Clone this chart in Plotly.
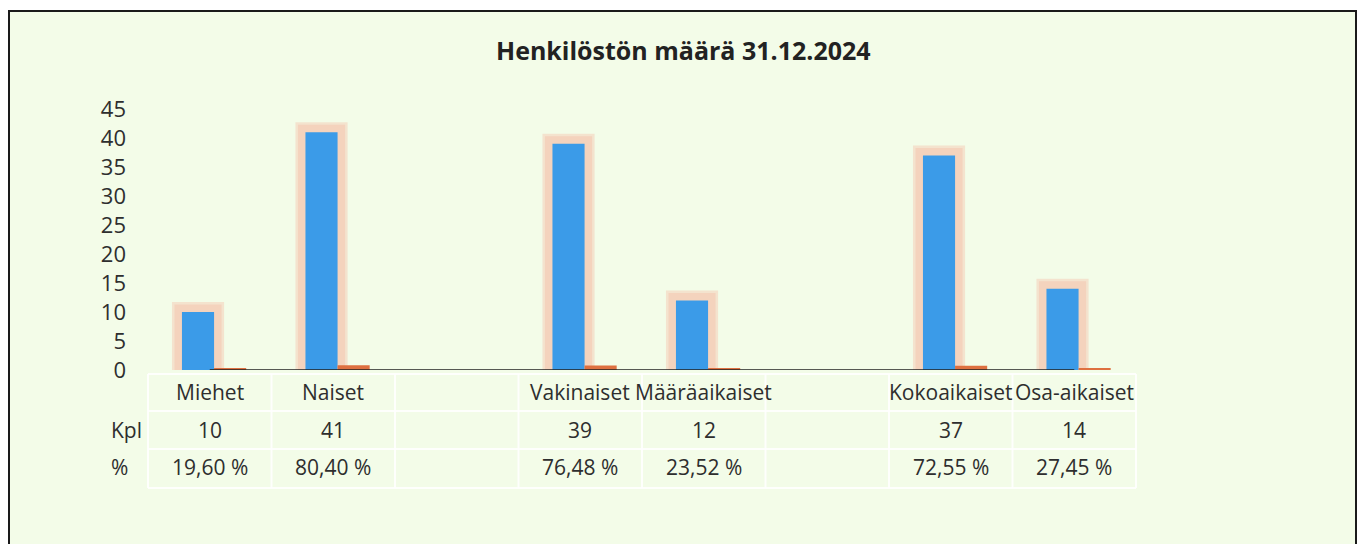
import plotly.graph_objects as go

categories = ["Miehet", "Naiset", " ", "Vakinaiset", "Määräaikaiset", "  ", "Kokoaikaiset", "Osa-aikaiset"]
kpl = [10, 41, None, 39, 12, None, 37, 14]
pct = [0.196, 0.804, None, 0.7648, 0.2352, None, 0.7255, 0.2745]
kpl_labels = ["10", "41", "", "39", "12", "", "37", "14"]
pct_labels = ["19,60 %", "80,40 %", "", "76,48 %", "23,52 %", "", "72,55 %", "27,45 %"]
row_labels = ["Kpl", "%"]
y_ticks = [0, 5, 10, 15, 20, 25, 30, 35, 40, 45]

W, H = 1365, 544
OFF = 8  # page body margin
FONT = "Open Sans"
TXT = "#2e2e2e"

def px(x):
    return (x - OFF) / W

def py(y):
    return 1 - (y - OFF) / H

bw = 0.26
boff = -0.225
fig = go.Figure()
# soft glow behind bars (two overlapping layers for a soft edge)
for lw, alpha in ((20, 0.4), (15, 0.45)):
    col = f"rgba(244,190,168,{alpha})"
    fig.add_trace(go.Bar(x=categories, y=kpl, width=bw, offset=boff,
                         marker=dict(color="rgba(0,0,0,0)", line=dict(color=col, width=lw)),
                         hoverinfo="skip", showlegend=False))
fig.add_trace(go.Bar(x=categories, y=kpl, width=bw, offset=boff, name="Kpl",
                     marker=dict(color="#3b9be8", line=dict(width=0)), showlegend=False))
fig.add_trace(go.Bar(x=categories, y=pct, width=bw, offset=boff + bw, name="%",
                     marker=dict(color="#de7040", line=dict(width=0)), showlegend=False))

shapes = []
# chart area background with border
shapes.append(dict(type="rect", xref="paper", yref="paper", x0=px(9), x1=px(1356),
                   y0=py(575), y1=py(11), fillcolor="#f3fce8",
                   line=dict(color="#1a1a1a", width=2), layer="below"))
# axis line
shapes.append(dict(type="line", xref="x", yref="y", x0=0, x1=7, y0=0, y1=0,
                   line=dict(color="#222222", width=1.5), layer="above"))

# table grid (faint white)
row_bounds = [374, 411, 449, 488]
n = len(categories)
for i in range(n + 1):
    shapes.append(dict(type="line", xref="x", yref="paper", x0=i - 0.5, x1=i - 0.5,
                       y0=py(row_bounds[0]), y1=py(row_bounds[-1]),
                       line=dict(color="rgba(255,255,255,0.85)", width=2)))
for rb in row_bounds:
    shapes.append(dict(type="line", xref="x", yref="paper", x0=-0.5, x1=n - 0.5,
                       y0=py(rb), y1=py(rb),
                       line=dict(color="rgba(255,255,255,0.85)", width=2)))

annotations = []
annotations.append(dict(text="<b>Henkilöstön määrä 31.12.2024</b>", xref="paper", yref="paper",
                        x=px(683), y=py(50), showarrow=False, yanchor="middle",
                        font=dict(family=FONT, size=25, color="#222222")))
for i, c in enumerate(categories):
    for txt, yy in ((c.strip(), 392), (kpl_labels[i], 430), (pct_labels[i], 467)):
        annotations.append(dict(text=txt, xref="x", yref="paper", x=i, y=py(yy),
                                yanchor="middle", showarrow=False,
                                font=dict(family=FONT, size=21, color=TXT)))
for lbl, yy in zip(row_labels, [430, 467]):
    annotations.append(dict(text=lbl, xref="paper", yref="paper", x=px(109), y=py(yy),
                            xanchor="left", yanchor="middle", showarrow=False,
                            font=dict(family=FONT, size=21, color=TXT)))

fig.update_layout(
    width=W, height=H,
    margin=dict(l=0, r=0, t=0, b=0, autoexpand=False),
    paper_bgcolor="white",
    plot_bgcolor="rgba(0,0,0,0)",
    barmode="overlay",
    showlegend=False,
    shapes=shapes,
    annotations=annotations,
    xaxis=dict(domain=[px(147), px(1137)], showticklabels=False, showgrid=False,
               zeroline=False, showline=False, automargin=False,
               categoryorder="array", categoryarray=categories),
    yaxis=dict(domain=[py(370), py(109)], range=[0, 45], tickvals=y_ticks,
               showgrid=False, zeroline=False, showline=False, ticks="", automargin=False,
               ticklabelstandoff=20,
               tickfont=dict(family=FONT, size=22, color=TXT)),
)

fig.write_html("out.html")
